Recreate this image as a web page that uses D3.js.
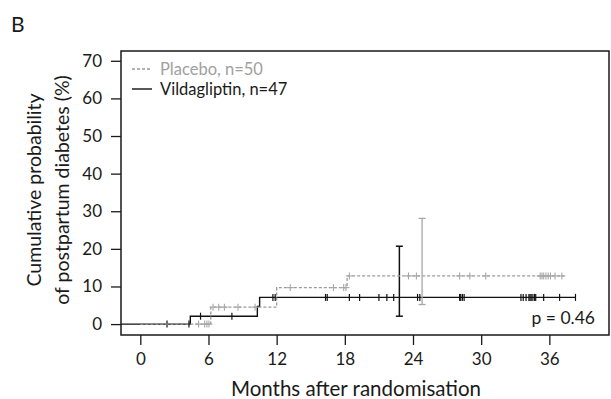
<!DOCTYPE html>
<html><head><meta charset="utf-8">
<script src="https://cdn.jsdelivr.net/npm/d3@7"></script>
<style>
html,body{margin:0;padding:0;background:#fff;}
svg{display:block;}
text{font-family:Lato,"Open Sans",sans-serif;}
</style></head>
<body>
<svg id="chart" width="611" height="399"></svg>
<script>
// ---- data ----
const xTicks = [0, 6, 12, 18, 24, 30, 36];
const yTicks = [0, 10, 20, 30, 40, 50, 60, 70];

// step curves: time of each step (months) and cumulative probability (%) after it
const vildaTimes = [-1.7, 4.4, 10.3, 10.5, 38.3];
const vildaCum   = [0, 2.1, 4.7, 7.1, 7.1];
const placeboTimes = [0, 6.2, 12.0, 18.2, 37.3];
const placeboCum   = [0, 4.5, 9.7, 12.8, 12.8];

// censoring times (months)
const vildaCensor = [2.35, 4.28, 5.3, 8.06, 11.67, 11.87, 16.3, 16.45, 18.4, 19.3, 21.0, 21.7, 22.3,
  24.4, 24.6, 28.1, 28.2, 28.35, 28.5, 33.5, 33.7, 33.95, 34.2, 34.3, 34.4, 34.55, 34.7, 34.8,
  35.5, 36.9, 38.3];
const placeboCensor = [5.13, 5.66, 5.86, 6.04, 6.4, 6.9, 7.4, 8.6, 10.1, 13.2, 17.0, 17.9, 18.1,
  18.4, 23.6, 24.3, 28.1, 29.0, 30.4, 35.2, 35.35, 35.5, 35.7, 35.9, 36.1, 36.5, 37.1];

// confidence intervals: [time, lower, upper]
const vildaCI = [22.8, 2.1, 20.7];
const placeboCI = [24.8, 5.2, 28.1];

const legendLabels = ["Placebo, n=50", "Vildagliptin, n=47"];
const pText = "p = 0.46";

// ---- drawing ----
const svg = d3.select("#chart");
const mL = 121, mR = 609, mT = 51, mB = 335;
const x = d3.scaleLinear().domain([-1.7, 41.25]).range([mL, mR]);
const y = d3.scaleLinear().domain([-2.9, 72.6]).range([mB, mT]);

const grayCol = "#9a9a9a";
const ciGray = "#a8a8a8";
const ink = "#1a1a1a";

// box
svg.append("rect").attr("x", mL).attr("y", mT).attr("width", mR - mL).attr("height", mB - mT)
  .attr("fill", "none").attr("stroke", ink).attr("stroke-width", 1.5);

// y axis
const yAxis = d3.axisLeft(y).tickValues(yTicks).tickSize(10).tickPadding(9).tickSizeOuter(0);
const gy = svg.append("g").attr("transform", `translate(${mL},0)`).call(yAxis);
gy.select(".domain").remove();
gy.selectAll("line").attr("stroke", ink).attr("stroke-width", 1.3);
gy.selectAll("text").attr("font-size", 17).attr("fill", ink).attr("font-family", "Lato,'Open Sans',sans-serif");

// x axis
const xAxis = d3.axisBottom(x).tickValues(xTicks).tickSize(10).tickPadding(8).tickSizeOuter(0);
const gx = svg.append("g").attr("transform", `translate(0,${mB})`).call(xAxis);
gx.select(".domain").remove();
gx.selectAll("line").attr("stroke", ink).attr("stroke-width", 1.3);
gx.selectAll("text").attr("font-size", 17).attr("fill", ink).attr("font-family", "Lato,'Open Sans',sans-serif");

// titles
svg.append("text").attr("x", 356).attr("y", 396)
  .attr("text-anchor", "middle").attr("font-size", 20.5).attr("fill", ink)
  .text("Months after randomisation");
const yt = svg.append("text").attr("transform", `translate(0,190) rotate(-90)`)
  .attr("text-anchor", "middle").attr("font-size", 19.5).attr("fill", ink);
yt.append("tspan").attr("x", 0).attr("y", 41).text("Cumulative probability");
yt.append("tspan").attr("x", 0).attr("y", 69).text("of postpartum diabetes (%)");

svg.append("text").attr("x", 11).attr("y", 32).attr("font-size", 21).attr("fill", ink).text("B");

// step helper
function stepPath(times, cum) {
  const pts = times.map((t, i) => [t, cum[i]]);
  return d3.line().x(d => x(d[0])).y(d => y(d[1])).curve(d3.curveStepAfter)(pts);
}
function levelAt(times, cum, t) {
  let v = cum[0];
  for (let i = 0; i < times.length; i++) if (times[i] <= t) v = cum[i];
  return v;
}

// vildagliptin (black)
svg.append("path").attr("d", stepPath(vildaTimes, vildaCum))
  .attr("fill", "none").attr("stroke", "#111").attr("stroke-width", 1.4);
svg.append("g").selectAll("line").data(vildaCensor).join("line")
  .attr("x1", d => x(d)).attr("x2", d => x(d))
  .attr("y1", d => y(levelAt(vildaTimes, vildaCum, d)) - 3.5)
  .attr("y2", d => y(levelAt(vildaTimes, vildaCum, d)) + 3.5)
  .attr("stroke", "#111").attr("stroke-width", 1.2);
function ciBar(ci, col, w) {
  const g = svg.append("g").attr("stroke", col).attr("stroke-width", w);
  g.append("line").attr("x1", x(ci[0])).attr("x2", x(ci[0])).attr("y1", y(ci[1])).attr("y2", y(ci[2]));
  [ci[1], ci[2]].forEach(v => g.append("line").attr("x1", x(ci[0]) - 3.5).attr("x2", x(ci[0]) + 3.5)
    .attr("y1", y(v)).attr("y2", y(v)));
}
ciBar(vildaCI, "#111", 1.5);

// placebo (gray dashed)
svg.append("path").attr("d", stepPath(placeboTimes, placeboCum))
  .attr("fill", "none").attr("stroke", grayCol).attr("stroke-width", 1.3).attr("stroke-dasharray", "3,2");
const pc = svg.append("g").attr("stroke", ciGray).attr("stroke-width", 1.1);
placeboCensor.forEach(d => {
  const yy = y(levelAt(placeboTimes, placeboCum, d));
  pc.append("line").attr("x1", x(d)).attr("x2", x(d)).attr("y1", yy - 3.5).attr("y2", yy + 3.5);
  pc.append("line").attr("x1", x(d) - 3.5).attr("x2", x(d) + 3.5).attr("y1", yy).attr("y2", yy);
});
ciBar(placeboCI, ciGray, 1.3);

// legend
const lg = svg.append("g");
lg.append("line").attr("x1", 132).attr("x2", 152).attr("y1", 69).attr("y2", 69)
  .attr("stroke", grayCol).attr("stroke-width", 1.3).attr("stroke-dasharray", "3,2");
lg.append("text").attr("x", 160).attr("y", 74.5).attr("font-size", 16.5).attr("fill", "#a0a0a0").text(legendLabels[0]);
lg.append("line").attr("x1", 132).attr("x2", 152).attr("y1", 89).attr("y2", 89)
  .attr("stroke", "#111").attr("stroke-width", 1.4);
lg.append("text").attr("x", 160).attr("y", 94.5).attr("font-size", 16.5).attr("fill", ink).text(legendLabels[1]);

// p value
svg.append("text").attr("x", 595).attr("y", 323.5).attr("text-anchor", "end")
  .attr("font-size", 17.5).attr("fill", ink).text(pText);
</script>
</body></html>
